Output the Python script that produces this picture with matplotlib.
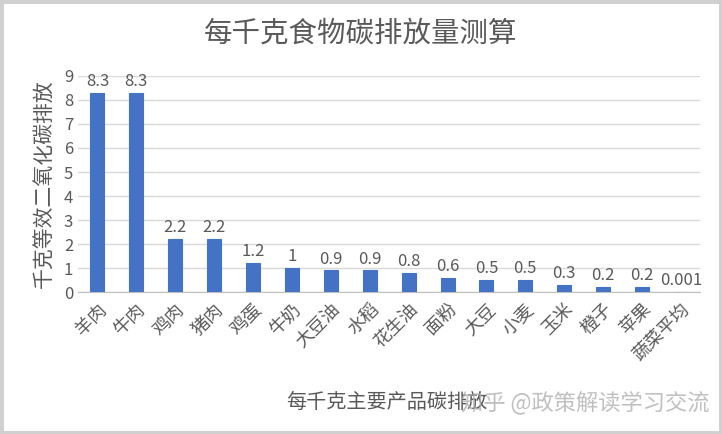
import matplotlib.pyplot as plt
import numpy as np

plt.rcParams['font.family'] = ['Noto Sans CJK SC', 'DejaVu Sans']

foods = ['羊肉', '牛肉', '鸡肉', '猪肉', '鸡蛋', '牛奶', '大豆油', '水稻',
         '花生油', '面粉', '大豆', '小麦', '玉米', '橙子', '苹果', '蔬菜平均']
values = [8.3, 8.3, 2.2, 2.2, 1.2, 1, 0.9, 0.9, 0.8, 0.6, 0.5, 0.5, 0.3, 0.2, 0.2, 0.001]
labels = ['8.3', '8.3', '2.2', '2.2', '1.2', '1', '0.9', '0.9', '0.8', '0.6',
          '0.5', '0.5', '0.3', '0.2', '0.2', '0.001']

fig = plt.figure(figsize=(7.22, 4.34), dpi=100)
fig.patch.set_edgecolor('#d0d0d0')
fig.patch.set_linewidth(5)
ax = fig.add_axes([0.108, 0.327, 0.862, 0.498])

x = np.arange(len(foods))
ax.bar(x, values, width=0.36, color='#4472c4', edgecolor='#4472c4', linewidth=0.8, zorder=3)

for xi, v, s in zip(x, values, labels):
    ax.text(xi, v + 0.12, s, ha='center', va='bottom', fontsize=12, color='#595959')

ax.set_xlim(-0.5, len(foods) - 0.5)
ax.set_ylim(0, 9)
ax.set_yticks(range(10))
ax.yaxis.grid(True, color='#d9d9d9', linewidth=1, zorder=0)
ax.set_axisbelow(True)
for s in ['top', 'right', 'left']:
    ax.spines[s].set_visible(False)
ax.spines['bottom'].set_color('#bfbfbf')
ax.tick_params(axis='both', length=0, colors='#595959', labelsize=12)
ax.set_xticks(x)
ax.set_xticklabels(foods, rotation=45, ha='right', rotation_mode='anchor', fontsize=13)
ax.tick_params(axis='x', pad=6)

ax.set_ylabel('千克等效二氧化碳排放', fontsize=15, color='#595959', labelpad=6)
fig.text(0.5, 0.922, '每千克食物碳排放量测算', ha='center', va='center',
         fontsize=20.5, color='#595959')
fig.text(0.536, 0.072, '每千克主要产品碳排放', ha='center', va='center',
         fontsize=14.5, color='#595959')
fig.text(0.81, 0.072, '知乎 @政策解读学习交流', ha='center', va='center',
         fontsize=16, color='#b0b0b0', alpha=0.8)

fig.savefig('out.png', dpi=100, edgecolor=fig.get_edgecolor())
